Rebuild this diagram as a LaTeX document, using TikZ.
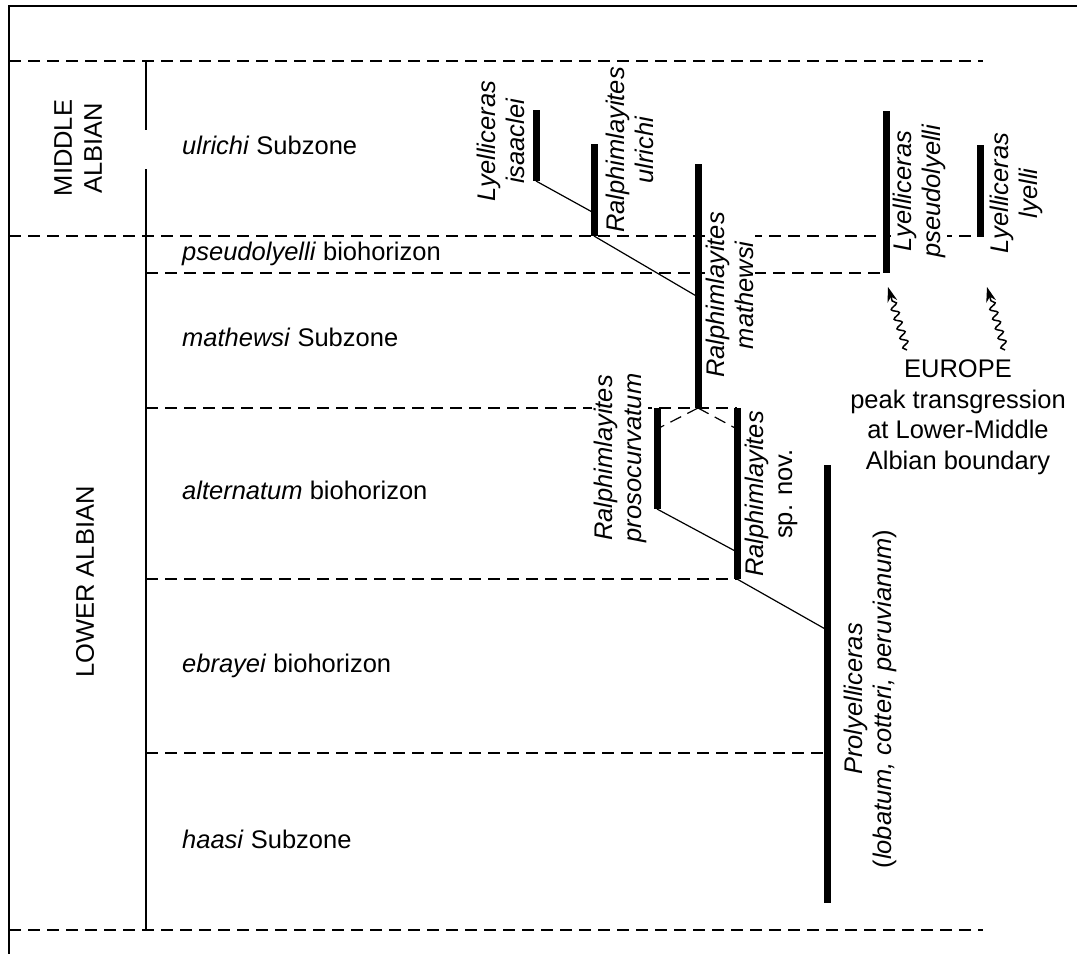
\documentclass[tikz,border=0pt]{standalone}
\usepackage{fontspec}
\setmainfont{Liberation Sans}
\usetikzlibrary{arrows.meta,decorations.pathmorphing}
\begin{document}
\begin{tikzpicture}[x=1pt,y=-1pt,
  frame/.style={line width=1.6pt},
  rowline/.style={line width=1.3pt, dash pattern=on 12pt off 7pt},
  colline/.style={line width=1.5pt},
  bar/.style={line width=7pt},
  link/.style={line width=1.2pt},
  dlink/.style={line width=1.2pt, dash pattern=on 12pt off 7pt},
  zone/.style={anchor=west, inner sep=0pt, text height=18pt, text depth=5pt, font=\fontsize{25.5}{30}\selectfont},
  stage/.style={rotate=90, align=center, inner sep=0pt, font=\fontsize{25.5}{30}\selectfont},
  taxon/.style={rotate=90, align=center, inner sep=1.5pt, fill=white, font=\fontsize{25.5}{29}\selectfont},
  note/.style={align=center, inner sep=0pt, font=\fontsize{25.5}{30.5}\selectfont},
  wavy/.style={-{Stealth[length=15pt,width=10pt]}, line width=1.5pt, decorate,
    decoration={snake, amplitude=3.5pt, segment length=10pt, post length=14pt}}]
\useasboundingbox (0,0) rectangle (1077,954);

% frame
\coordinate (fTL) at (9,6);
\coordinate (fTR) at (1077,6);
\coordinate (fBL) at (9,954);
\draw[frame] (fTR) -- (fTL) -- (fBL);

% column divider (with small gap)
\coordinate (c0) at (146,61);
\coordinate (c1) at (146,130);
\coordinate (c2) at (146,169);
\coordinate (c3) at (146,930);
\draw[colline] (c0) -- (c1);
\draw[colline] (c2) -- (c3);

% row boundaries
\coordinate (r1a) at (9,61);   \coordinate (r1b) at (983,61);
\coordinate (r2a) at (9,236);  \coordinate (r2b) at (980,236);
\coordinate (r3a) at (146,273);\coordinate (r3b) at (886,273);
\coordinate (r4a) at (146,408);\coordinate (r4b) at (737,408);
\coordinate (r5a) at (146,579);\coordinate (r5b) at (737,579);
\coordinate (r6a) at (146,753);\coordinate (r6b) at (827,753);
\coordinate (r7a) at (9,930);  \coordinate (r7b) at (983,930);
\foreach \r in {1,...,7} {\draw[rowline] (r\r a) -- (r\r b);}

% stage labels
\node[stage] (middle) at (78,148) {MIDDLE\\ALBIAN};
\node[stage] (lower) at (85,582) {LOWER ALBIAN};

% zone labels
\node[zone] (zul) at (182,148) {\textit{ulrichi} Subzone};
\node[zone] (zps) at (182,254) {\textit{pseudolyelli} biohorizon};
\node[zone] (zma) at (182,340) {\textit{mathewsi} Subzone};
\node[zone] (zal) at (182,493) {\textit{alternatum} biohorizon};
\node[zone] (zeb) at (182,666) {\textit{ebrayei} biohorizon};
\node[zone] (zha) at (182,842) {\textit{haasi} Subzone};

% taxon labels (white ground masks the dashed rows behind them)
\node[taxon] (tis) at (501,141) {\textit{Lyelliceras}\\\textit{isaaclei}};
\node[taxon] (tul) at (630,150) {\textit{Ralphimlayites}\\\textit{ulrichi}};
\node[taxon] (tma) at (730,295) {\textit{Ralphimlayites}\\\textit{mathewsi}};
\node[taxon] (tpr) at (620,458) {\textit{Ralphimlayites}\\\textit{prosocurvatum}};
\node[taxon] (tsn) at (771,494) {\textit{Ralphimlayites}\\sp. nov.};
\node[taxon] (tpl) at (870,699) {\textit{Prolyelliceras}\\(\textit{lobatum, cotteri, peruvianum})};
\node[taxon] (tps) at (919,191) {\textit{Lyelliceras}\\\textit{pseudolyelli}};
\node[taxon] (tly) at (1016,193) {\textit{Lyelliceras}\\\textit{lyelli}};

% range bars
\coordinate (isT) at (536,110); \coordinate (isB) at (536,181);
\coordinate (ulT) at (594,144); \coordinate (ulB) at (594,236);
\coordinate (maT) at (698,164); \coordinate (maB) at (698,408);
\coordinate (prT) at (657,408); \coordinate (prB) at (657,509);
\coordinate (snT) at (737,408); \coordinate (snB) at (737,579);
\coordinate (plT) at (827,465); \coordinate (plB) at (827,903);
\coordinate (psT) at (886,111); \coordinate (psB) at (886,273);
\coordinate (lyT) at (980,145); \coordinate (lyB) at (980,237);
\foreach \b in {is,ul,ma,pr,sn,pl,ps,ly} {\draw[bar] (\b T) -- (\b B);}

% links
\coordinate (ulJ) at (594,213);
\coordinate (maJ) at (698,297);
\coordinate (prJ) at (657,429);
\coordinate (snJ) at (737,429);
\coordinate (snK) at (737,552);
\coordinate (plJ) at (827,630);
\draw[link] (isB) -- (ulJ);
\draw[link] (ulB) -- (maJ);
\draw[dlink] (maB) -- (prJ);
\draw[dlink] (maB) -- (snJ);
\draw[link] (prB) -- (snK);
\draw[link] (snB) -- (plJ);

% Europe note and wavy arrows
\node[note] (eu) at (958,417) {EUROPE\\peak transgression\\at Lower-Middle\\Albian boundary};
\coordinate (a1s) at (907,350); \coordinate (a1e) at (888,287);
\coordinate (a2s) at (1005,350); \coordinate (a2e) at (987,287);
\draw[wavy] (a1s) -- (a1e);
\draw[wavy] (a2s) -- (a2e);
\end{tikzpicture}
\end{document}
